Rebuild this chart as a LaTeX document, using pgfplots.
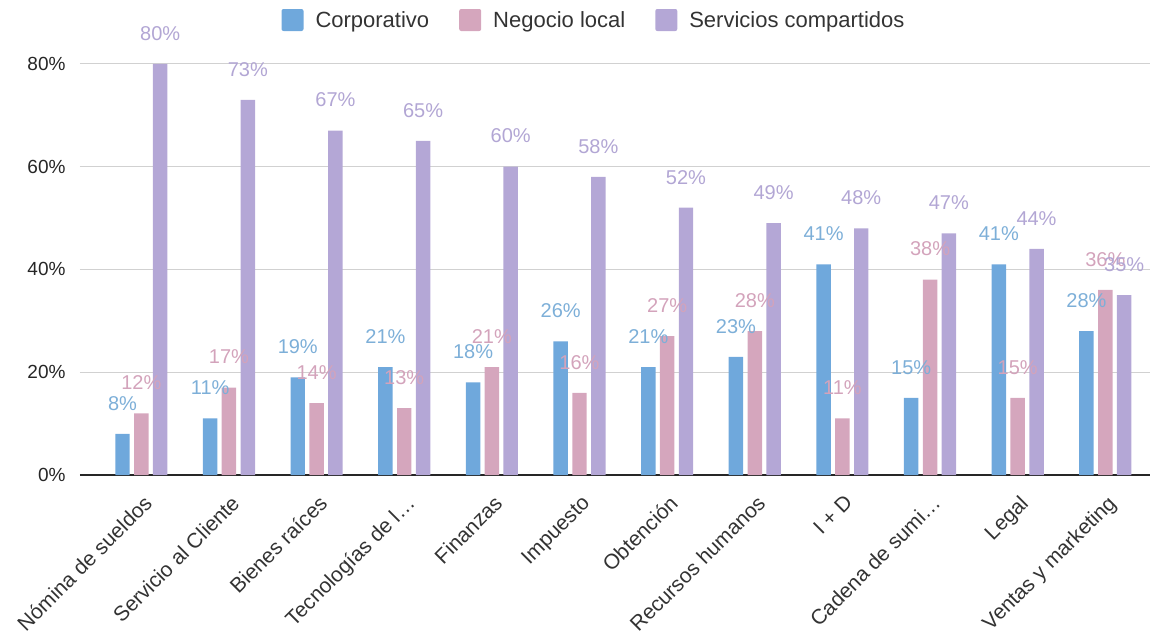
\documentclass[border=0pt]{standalone}
\usepackage{pgfplots}
\pgfplotsset{compat=1.18}
\usepackage{fontspec}
\setmainfont{Liberation Sans}
\definecolor{cblue}{HTML}{6FA8DC}
\definecolor{cpink}{HTML}{D5A6BD}
\definecolor{cpurple}{HTML}{B4A7D6}
\definecolor{lblue}{HTML}{7DAFD8}
\definecolor{lpink}{HTML}{D3A3BB}
\definecolor{lpurple}{HTML}{B2A6D4}
\begin{document}
\begin{tikzpicture}
\begin{axis}[
  scale only axis, width=1070pt, height=442pt,
  ymin=0, ymax=86, xmin=-0.7, xmax=11.51,
  ybar, bar width=0.165,
  ytick={0,20,40,60,80},
  yticklabels={0\%,20\%,40\%,60\%,80\%},
  yticklabel style={font=\fontsize{19}{21}\selectfont, text=black!85, xshift=-11pt},
  ymajorgrids, grid style={color=black!18, line width=0.9pt},
  xtick={0,...,11},
  xticklabels={N\'omina de sueldos, Servicio al Cliente, Bienes ra\'ices, Tecnolog\'ias de l\ldots, Finanzas, Impuesto, Obtenci\'on, Recursos humanos, I + D, Cadena de sumi\ldots, Legal, Ventas y marketing},
  xticklabel style={xshift=1pt, yshift=-14pt, rotate=45, anchor=north east, font=\fontsize{21}{23}\selectfont, text=black!80},
  major tick length=0pt,
  axis lines*=left,
  y axis line style={draw=none},
  x axis line style={color=black!85, line width=1.2pt},
  clip=false,
  point meta=y,
  /pgf/number format/assume math mode=true,
  nodes near coords={\pgfmathprintnumber{\pgfplotspointmeta}\%},
  every node near coord/.append style={font=\fontsize{20}{22}\selectfont, yshift=20pt},
  legend style={at={(0.5,1)}, anchor=center, xshift=-21pt, yshift=13pt, draw=none, fill=none,
    font=\fontsize{22}{24}\selectfont, text=black!80,
    /tikz/every odd column/.append style={column sep=10pt},
    /tikz/every even column/.append style={column sep=28pt}},
  legend columns=-1,
  legend image code/.code={\fill[#1, draw=none, rounded corners=2pt] (0pt,-11pt) rectangle (22pt,11pt);},
]
\addplot[fill=cblue, draw=none, bar shift=-0.215, every node near coord/.append style={text=lblue}] coordinates {
 (0,8) (1,11) (2,19) (3,21) (4,18) (5,26) (6,21) (7,23) (8,41) (9,15) (10,41) (11,28)};
\addplot[fill=cpink, draw=none, bar shift=0, every node near coord/.append style={text=lpink}] coordinates {
 (0,12) (1,17) (2,14) (3,13) (4,21) (5,16) (6,27) (7,28) (8,11) (9,38) (10,15) (11,36)};
\addplot[fill=cpurple, draw=none, bar shift=0.215, every node near coord/.append style={text=lpurple}] coordinates {
 (0,80) (1,73) (2,67) (3,65) (4,60) (5,58) (6,52) (7,49) (8,48) (9,47) (10,44) (11,35)};
\legend{Corporativo, Negocio local, Servicios compartidos}
\coordinate (sw) at (rel axis cs:0,0);
\end{axis}
\pgfresetboundingbox
\useasboundingbox ([shift={(-80pt,-159pt)}]sw) rectangle ([shift={(1073pt,475pt)}]sw);
\end{tikzpicture}
\end{document}
